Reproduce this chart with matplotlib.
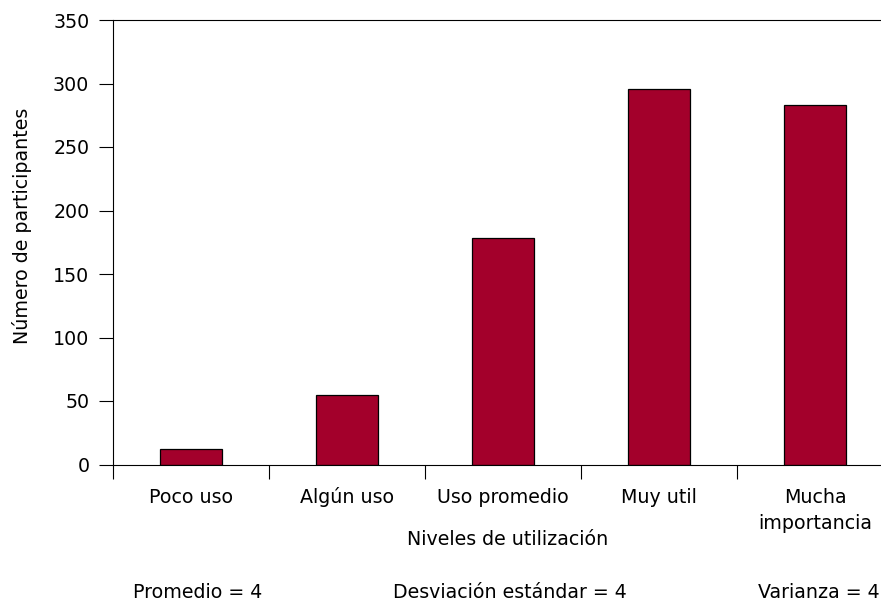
import numpy as np
import matplotlib.pyplot as plt
from matplotlib.transforms import blended_transform_factory

categorias = ['Poco uso', 'Algún uso', 'Uso promedio', 'Muy util', 'Mucha\nimportancia']
participantes = [12, 55, 178, 296, 283]
resumen = ['Promedio = 4', 'Desviación estándar = 4', 'Varianza = 4']

plt.rcParams['font.family'] = ['DejaVu Sans']
plt.rcParams['font.size'] = 13.7

W, H = 881, 602
fig = plt.figure(figsize=(W/100, H/100), dpi=100)
# el eje derecho queda fuera de la imagen, como en el original
ax = fig.add_axes([113/W, 1 - 464.5/H, 780/W, 444.5/H])

x = np.arange(len(categorias))
ax.bar(x, participantes, width=0.4, color='#A3002B', edgecolor='black', linewidth=0.9)

ax.set_xlim(-0.5, len(categorias) - 0.5)
ax.set_ylim(0, 350)
ax.set_yticks(range(0, 351, 50))
ax.tick_params(axis='y', direction='out', length=10, width=0.8, pad=7)

# marcas entre categorías
ax.set_xticks(np.arange(len(categorias) + 1) - 0.5)
ax.set_xticklabels([])
ax.tick_params(axis='x', direction='out', length=10, width=0.8)

# etiquetas centradas, alineadas por la línea base
trans = blended_transform_factory(ax.transData, fig.transFigure)
for xi, cat in zip(x, categorias):
    for i, linea in enumerate(cat.split('\n')):
        ax.text(xi, 1 - (503 + 26*i)/H, linea, transform=trans,
                ha='center', va='baseline', clip_on=False)

for s in ax.spines.values():
    s.set_linewidth(0.8)

fig.text(508/W, 1 - 545/H, 'Niveles de utilización', ha='center', va='baseline')
fig.text(22/W, 1 - 226/H, 'Número de participantes', rotation=90,
         ha='center', va='center')

fig.text(133/W, 1 - 598/H, resumen[0], ha='left', va='baseline')
fig.text(510/W, 1 - 598/H, resumen[1], ha='center', va='baseline')
fig.text(880/W, 1 - 598/H, resumen[2], ha='right', va='baseline')

fig.savefig('out.png', dpi=100)
